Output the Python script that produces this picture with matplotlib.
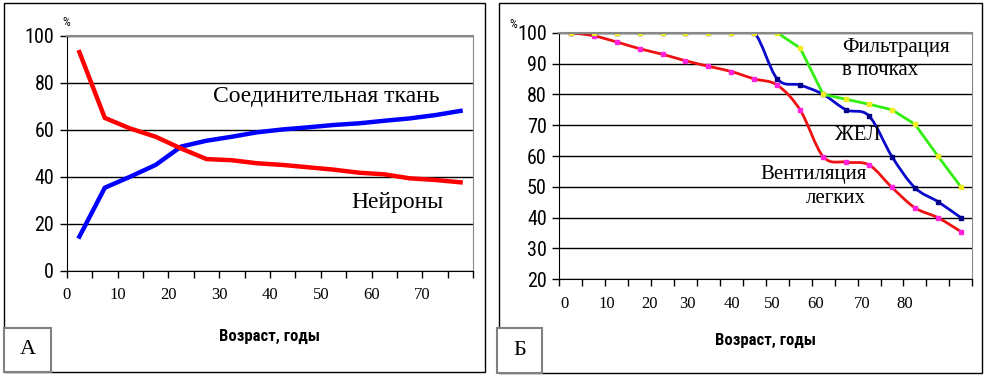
import matplotlib.pyplot as plt
import numpy as np
from matplotlib import font_manager
from matplotlib.path import Path
from matplotlib.patches import PathPatch, Rectangle


# Панель А: возраст (середины 5-летних интервалов), %
age_a = [2.5, 7.5, 12.5, 17.5, 22.5, 27.5, 32.5, 37.5, 42.5, 47.5, 52.5, 57.5, 62.5, 67.5, 72.5, 77.5]
neurons = [93, 65, 60.5, 57, 52, 47.5, 47, 45.7, 45, 44, 43, 41.7, 41, 39.3, 38.6, 37.6]
tissue = [14.5, 35.3, 40, 45, 52.8, 55.3, 57, 58.9, 60.1, 61, 62, 62.7, 63.8, 64.8, 66.2, 68]
xlabels_a = ["0", "10", "20", "30", "40", "50", "60", "70"]
xlabel_pos_a = [0, 10, 20, 30, 40, 50, 60, 70]

# Панель Б
age_b = [2.5, 7.5, 12.5, 17.5, 22.5, 27.5, 32.5, 37.5, 42.5, 47.5, 52.5, 57.5, 62.5, 67.5, 72.5, 77.5, 82.5, 87.5]
filtration = [100, 100, 100, 100, 100, 100, 100, 100, 100, 100, 95, 80, 78.4, 76.8, 75, 70.3, 60, 50]
vital_cap = [100, 100, 100, 100, 100, 100, 100, 100, 100, 85, 83, 80, 75, 73, 59.8, 49.7, 45.2, 40]
ventilation = [100, 99, 97, 94.8, 93, 90.9, 89.1, 87.4, 85, 83, 74.9, 59.8, 58, 57.1, 49.8, 43.2, 40, 35.5]
xlabels_b = ["0", "10", "20", "30", "40", "50", "60", "70", "80"]
xlabel_pos_b = [1.2, 10.3, 19.6, 28.0, 37.6, 46.5, 55.9, 65.9, 75.2]

plt.rcParams["font.family"] = ["Liberation Serif", "DejaVu Serif"]

# узкий шрифт, если есть
have = {(f.name, f.stretch) for f in font_manager.fontManager.ttflist}
names = {n for n, s in have}
narrow_kw = {"family": ["Liberation Sans", "DejaVu Sans"]}
for cand in ["Liberation Sans Narrow", "Arial Narrow", "Roboto Condensed", "Open Sans Condensed"]:
    if cand in names:
        narrow_kw = {"family": [cand, "DejaVu Sans"]}
        break
else:
    if ("DejaVu Sans", "condensed") in have:
        narrow_kw = {"family": ["DejaVu Sans"], "stretch": "condensed"}


def smooth_path(x, y):
    # сглаженная линия как в Excel (кривые Безье)
    x = np.asarray(x, float)
    y = np.asarray(y, float)
    px = np.concatenate([[x[0]], x, [x[-1]]])
    py = np.concatenate([[y[0]], y, [y[-1]]])
    verts = [(x[0], y[0])]
    codes = [Path.MOVETO]
    for i in range(1, len(px) - 2):
        c1 = (px[i] + (px[i + 1] - px[i - 1]) / 6, py[i] + (py[i + 1] - py[i - 1]) / 6)
        c2 = (px[i + 1] - (px[i + 2] - px[i]) / 6, py[i + 1] - (py[i + 2] - py[i]) / 6)
        verts += [c1, c2, (px[i + 1], py[i + 1])]
        codes += [Path.CURVE4] * 3
    return Path(verts, codes)


def style_axes(ax, ymin, ymax, ystep, xmax, lab_pos, labels):
    ax.set_xlim(0, xmax)
    ax.set_ylim(ymin, ymax)
    ax.xaxis.remove_overlapping_locs = False
    ax.set_yticks(np.arange(ymin, ymax + 1, ystep))
    ax.set_xticks(np.arange(0, xmax + 1, 5))
    ax.set_xticklabels([])
    ax.set_xticks(lab_pos, labels, minor=True)
    ax.tick_params(axis="y", length=5, width=1, pad=4)
    ax.tick_params(axis="x", which="major", length=5, width=1)
    ax.tick_params(axis="x", which="minor", length=0, pad=12, labelsize=12)
    for t in ax.get_yticklabels():
        t.set_fontproperties(font_manager.FontProperties(size=14.5, **narrow_kw))
    ax.yaxis.grid(True, color="black", linewidth=1)
    ax.set_axisbelow(True)
    ax.spines["top"].set_color("#888888")
    ax.spines["top"].set_linewidth(1.5)
    ax.spines["right"].set_color("#888888")
    ax.spines["left"].set_color("black")
    ax.spines["bottom"].set_color("black")


fig = plt.figure(figsize=(9.85, 3.78), dpi=100)

# ---- А ----
ax1 = fig.add_axes([0.0677, 0.2839, 0.4128, 0.6217])
ax1.plot(age_a, tissue, color="#0000ff", linewidth=3.2, solid_joinstyle="round")
ax1.plot(age_a, neurons, color="#ff0000", linewidth=3.2, solid_joinstyle="round")
style_axes(ax1, 0, 100, 20, 80, xlabel_pos_a, xlabels_a)
ax1.text(51, 74, "Соединительная ткань", fontsize=17, ha="center", va="center")
ax1.text(65, 29, "Нейроны", fontsize=17, ha="center", va="center")
ax1.text(0, 1.054, "%", transform=ax1.transAxes, fontsize=9, ha="center", va="center", **narrow_kw)
ax1.text(0.5, -0.28, "Возраст, годы", transform=ax1.transAxes, fontsize=12,
         fontweight="bold", ha="center", va="center", **narrow_kw)

# ---- Б ----
ax2 = fig.add_axes([0.5678, 0.2611, 0.4193, 0.6524])
ax2.add_patch(PathPatch(smooth_path(age_b, ventilation), facecolor="none",
                        edgecolor="#ee1111", linewidth=2))
ax2.plot(age_b, ventilation, linestyle="none", marker="s", markersize=3, color="#ff22dd")
ax2.add_patch(PathPatch(smooth_path(age_b, vital_cap), facecolor="none",
                        edgecolor="#0a0acc", linewidth=2))
ax2.plot(age_b, vital_cap, linestyle="none", marker="s", markersize=3, color="#000088")
ax2.plot(age_b, filtration, color="#33ee11", linewidth=2, marker="s", markersize=3,
         markerfacecolor="#eeee22", markeredgecolor="#eeee22")
style_axes(ax2, 20, 100, 10, 90, xlabel_pos_b, xlabels_b)
ax2.text(61.6, 91.5, "Фильтрация\nв почках", fontsize=15, ha="left",
         va="center", linespacing=1.25)
ax2.text(65, 66.8, "ЖЕЛ", fontsize=15, ha="center", va="center")
ax2.text(66.9, 50.0, "Вентиляция\nлегких", fontsize=15, ha="right",
         va="center", linespacing=1.35)
ax2.text(-0.112, 1.035, "%", transform=ax2.transAxes, fontsize=9, ha="center", va="center", **narrow_kw)
ax2.text(0.5, -0.25, "Возраст, годы", transform=ax2.transAxes, fontsize=12,
         fontweight="bold", ha="center", va="center", **narrow_kw)

# рамки панелей и подписи А / Б
W, H = 985, 378
for (x0, y0, x1, y1) in [(4, 3, 485, 372), (499, 3, 982, 373)]:
    fig.add_artist(Rectangle((x0 / W, 1 - y1 / H), (x1 - x0) / W, (y1 - y0) / H,
                             transform=fig.transFigure, fill=False, edgecolor="black", linewidth=1))
for (x0, y0, x1, y1), lab in [((4, 328, 51, 372), "А"), ((497, 328, 542, 373), "Б")]:
    fig.add_artist(Rectangle((x0 / W, 1 - y1 / H), (x1 - x0) / W, (y1 - y0) / H,
                             transform=fig.transFigure, facecolor="white", edgecolor="#808080",
                             linewidth=1.5))
    fig.text((x0 + x1) / 2 / W, 1 - (y0 + y1) / 2 / H, lab, fontsize=16,
             ha="center", va="center")

fig.savefig("out.png", dpi=100)
